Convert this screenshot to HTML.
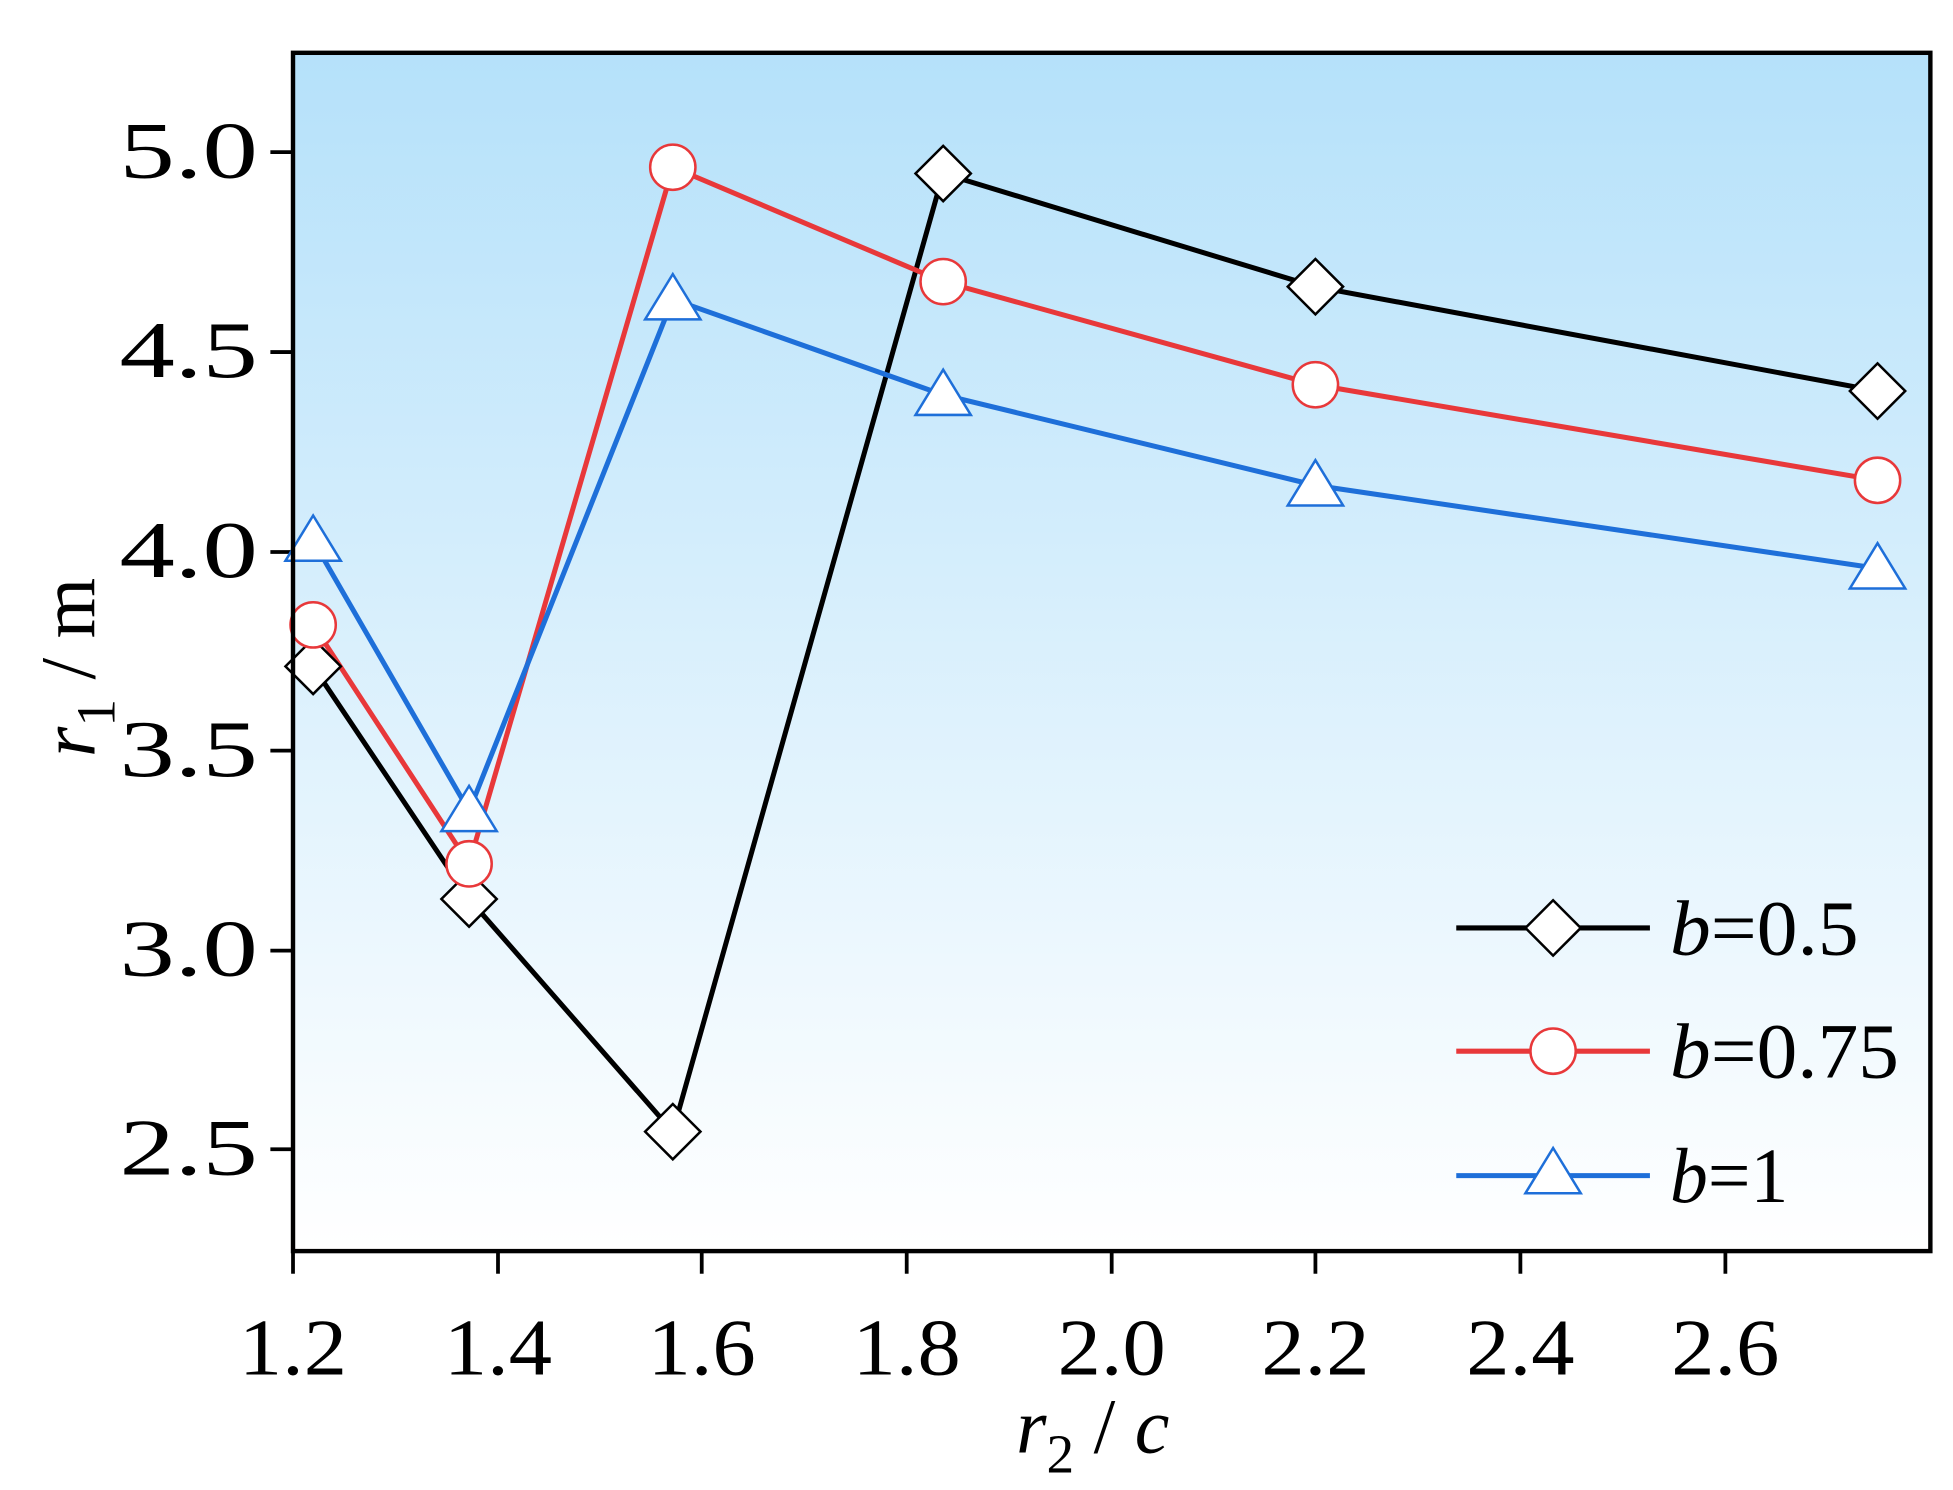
<!DOCTYPE html>
<html><head><style>html,body{margin:0;padding:0;background:#fff}svg{display:block}</style></head>
<body>
<svg width="1953" height="1490" viewBox="0 0 1553 1185" preserveAspectRatio="none" xmlns="http://www.w3.org/2000/svg" font-family="Liberation Serif, serif">
<defs>
<linearGradient id="g" x1="0" y1="0" x2="0" y2="1">
<stop offset="0" stop-color="#b5e1fa"/>
<stop offset="1" stop-color="#ffffff"/>
</linearGradient>
</defs>
<rect x="233" y="42" width="1302" height="953" fill="url(#g)"/>
<g stroke="#000" stroke-width="3">
<line x1="215" y1="121" x2="233" y2="121"/><line x1="215" y1="280" x2="233" y2="280"/>
<line x1="215" y1="439" x2="233" y2="439"/><line x1="215" y1="597" x2="233" y2="597"/>
<line x1="215" y1="756" x2="233" y2="756"/><line x1="215" y1="914" x2="233" y2="914"/>
<line x1="233" y1="995" x2="233" y2="1013"/><line x1="396" y1="995" x2="396" y2="1013"/>
<line x1="558" y1="995" x2="558" y2="1013"/><line x1="721" y1="995" x2="721" y2="1013"/>
<line x1="884" y1="995" x2="884" y2="1013"/><line x1="1046" y1="995" x2="1046" y2="1013"/>
<line x1="1209" y1="995" x2="1209" y2="1013"/><line x1="1372" y1="995" x2="1372" y2="1013"/>
</g>
<g font-size="64" fill="#000">
<text x="95" y="141" textLength="110" lengthAdjust="spacingAndGlyphs">5.0</text>
<text x="95" y="300" textLength="110" lengthAdjust="spacingAndGlyphs">4.5</text>
<text x="95" y="459" textLength="110" lengthAdjust="spacingAndGlyphs">4.0</text>
<text x="95" y="617" textLength="110" lengthAdjust="spacingAndGlyphs">3.5</text>
<text x="95" y="776" textLength="110" lengthAdjust="spacingAndGlyphs">3.0</text>
<text x="95" y="934" textLength="110" lengthAdjust="spacingAndGlyphs">2.5</text>
</g>
<g font-size="64" fill="#000">
<text x="190" y="1093" textLength="86" lengthAdjust="spacingAndGlyphs">1.2</text>
<text x="353" y="1093" textLength="86" lengthAdjust="spacingAndGlyphs">1.4</text>
<text x="515" y="1093" textLength="86" lengthAdjust="spacingAndGlyphs">1.6</text>
<text x="678" y="1093" textLength="86" lengthAdjust="spacingAndGlyphs">1.8</text>
<text x="841" y="1093" textLength="86" lengthAdjust="spacingAndGlyphs">2.0</text>
<text x="1003" y="1093" textLength="86" lengthAdjust="spacingAndGlyphs">2.2</text>
<text x="1166" y="1093" textLength="86" lengthAdjust="spacingAndGlyphs">2.4</text>
<text x="1329" y="1093" textLength="86" lengthAdjust="spacingAndGlyphs">2.6</text>
</g>
<text x="808" y="1155" font-size="62"><tspan font-style="italic">r</tspan><tspan font-size="44" dy="16">2</tspan><tspan dy="-16"> / </tspan><tspan font-style="italic">c</tspan></text>
<text transform="translate(75,602) rotate(-90)" font-size="62"><tspan font-style="italic">r</tspan><tspan font-size="44" dy="16">1</tspan><tspan dy="-16"> / m</tspan></text>
<polyline fill="none" stroke="#000" stroke-width="4" points="249,530 373,715 535,900 750,138 1046,228 1493,311"/>
<polyline fill="none" stroke="#e8383a" stroke-width="4" points="249,497 373,687 535,133 750,224 1046,306 1493,382"/>
<polyline fill="none" stroke="#1e6fd9" stroke-width="4" points="249,430 373,645 535,238 750,314 1046,386 1493,452"/>
<g fill="#fff" stroke="#000" stroke-width="2">
<path d="M249,508 l22,22 l-22,22 l-22,-22z"/><path d="M373,693 l22,22 l-22,22 l-22,-22z"/>
<path d="M535,878 l22,22 l-22,22 l-22,-22z"/><path d="M750,116 l22,22 l-22,22 l-22,-22z"/>
<path d="M1046,206 l22,22 l-22,22 l-22,-22z"/><path d="M1493,289 l22,22 l-22,22 l-22,-22z"/>
</g>
<g fill="#fff" stroke="#e8383a" stroke-width="2">
<circle cx="249" cy="497" r="18"/><circle cx="373" cy="687" r="18"/><circle cx="535" cy="133" r="18"/>
<circle cx="750" cy="224" r="18"/><circle cx="1046" cy="306" r="18"/><circle cx="1493" cy="382" r="18"/>
</g>
<g fill="#fff" stroke="#1e6fd9" stroke-width="2">
<path d="M249,410 l22,36 l-44,0z"/><path d="M373,625 l22,36 l-44,0z"/><path d="M535,218 l22,36 l-44,0z"/>
<path d="M750,294 l22,36 l-44,0z"/><path d="M1046,366 l22,36 l-44,0z"/><path d="M1493,432 l22,36 l-44,0z"/>
</g>
<line x1="1158" y1="738" x2="1312" y2="738" stroke="#000" stroke-width="4"/>
<path d="M1235,716 l22,22 l-22,22 l-22,-22z" fill="#fff" stroke="#000" stroke-width="2"/>
<line x1="1158" y1="836" x2="1312" y2="836" stroke="#e8383a" stroke-width="4"/>
<circle cx="1235" cy="836" r="18" fill="#fff" stroke="#e8383a" stroke-width="2"/>
<line x1="1158" y1="935" x2="1312" y2="935" stroke="#1e6fd9" stroke-width="4"/>
<path d="M1235,913 l22,36 l-44,0z" fill="#fff" stroke="#1e6fd9" stroke-width="2"/>
<g font-size="62" fill="#000">
<text x="1328" y="759" textLength="150" lengthAdjust="spacingAndGlyphs"><tspan font-style="italic">b</tspan>=0.5</text>
<text x="1328" y="857" textLength="182" lengthAdjust="spacingAndGlyphs"><tspan font-style="italic">b</tspan>=0.75</text>
<text x="1328" y="956" textLength="94" lengthAdjust="spacingAndGlyphs"><tspan font-style="italic">b</tspan>=1</text>
</g>
<rect x="233" y="42" width="1302" height="953" fill="none" stroke="#000" stroke-width="3.5"/>
</svg>
</body></html>
